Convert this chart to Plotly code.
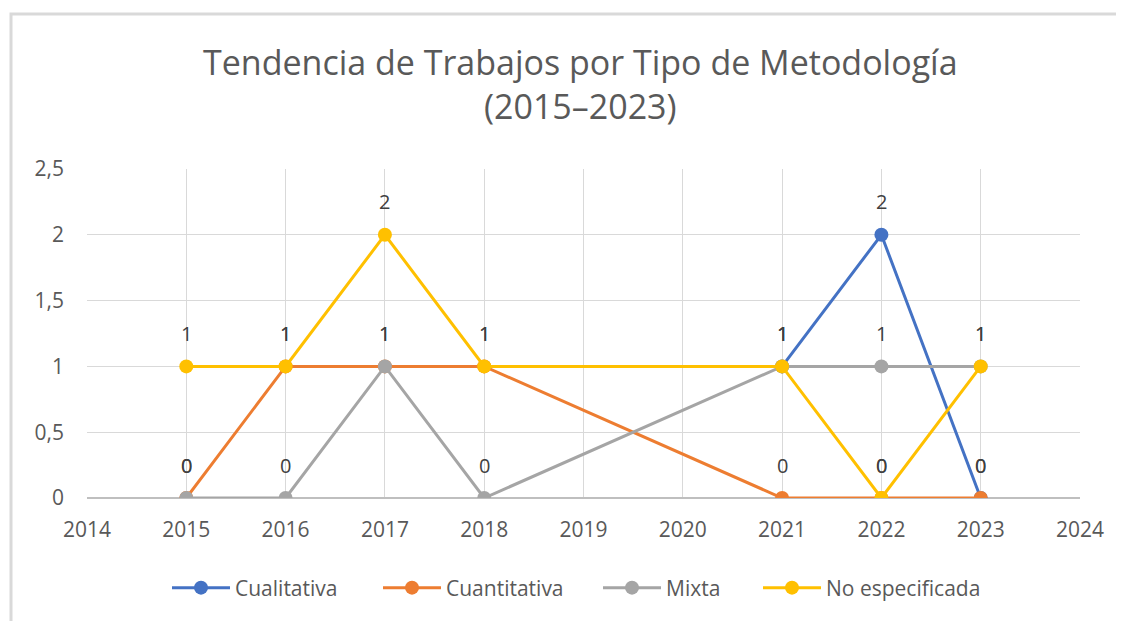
import plotly.graph_objects as go

years = [2015, 2016, 2017, 2018, 2021, 2022, 2023]
cualitativa = [None, None, None, None, 1, 2, 0]
cuantitativa = [0, 1, 1, 1, 0, 0, 0]
mixta = [0, 0, 1, 0, 1, 1, 1]
no_especificada = [1, 1, 2, 1, 1, 0, 1]

series = [
    ("Cualitativa", cualitativa, "#4472C4"),
    ("Cuantitativa", cuantitativa, "#ED7D31"),
    ("Mixta", mixta, "#A5A5A5"),
    ("No especificada", no_especificada, "#FFC000"),
]

FONT = "Open Sans"
TXT = "#595959"

OFF = 8  # page body margin
W, H = 1124 - OFF, 621 - OFF
L, T = 87 - OFF, 169 - OFF
pw, ph = 993, 329
R, B = W - L - pw, H - T - ph

def px(p):
    return (p - OFF - L) / pw

def py(p):
    return (T + ph - (p - OFF)) / ph

legend_left = [167, 378, 598, 758]
legend_ids = ["legend", "legend2", "legend3", "legend4"]

fig = go.Figure()
annotations = []
for (name, vals, color), lid in zip(series, legend_ids):
    fig.add_trace(go.Scatter(
        x=years, y=vals, name=name, mode="lines+markers",
        line=dict(color=color, width=3),
        marker=dict(color=color, size=14),
        connectgaps=False, legend=lid,
    ))
    for x, v in zip(years, vals):
        if v is None:
            continue
        annotations.append(dict(
            x=x, y=v, xref="x", yref="y", text=str(v), showarrow=False,
            yshift=33, font=dict(family=FONT, size=20, color="#404040"),
        ))

annotations.append(dict(
    text="Tendencia de Trabajos por Tipo de Metodología<br>(2015–2023)",
    xref="paper", yref="paper", x=px(580), y=py(84), xanchor="center", yanchor="middle",
    showarrow=False, font=dict(family=FONT, size=34, color=TXT),
))

legends = {}
for lid, lx in zip(legend_ids, legend_left):
    legends[lid] = dict(orientation="h", x=px(lx), y=py(588), xanchor="left", yanchor="middle",
                        font=dict(family=FONT, size=21, color=TXT), itemwidth=58,
                        bgcolor="rgba(0,0,0,0)")

fig.update_layout(
    width=W, height=H,
    margin=dict(l=L, r=R, t=T, b=B),
    paper_bgcolor="white", plot_bgcolor="white",
    separators=", ",
    showlegend=True,
    annotations=annotations,
    shapes=[dict(type="rect", xref="paper", yref="paper",
                 x0=px(11), y0=py(640), x1=px(1140), y1=py(14),
                 line=dict(color="#D9D9D9", width=3), layer="below")],
    xaxis=dict(range=[2014, 2024], dtick=1, tick0=2014, showgrid=True,
               gridcolor="#D9D9D9", gridwidth=1.3, zeroline=False, showline=False,
               ticks="", ticklabelstandoff=17,
               tickfont=dict(family=FONT, size=21, color=TXT)),
    yaxis=dict(range=[0, 2.5], dtick=0.5, showgrid=True, gridcolor="#D9D9D9",
               gridwidth=1.3, zeroline=True, zerolinecolor="#BFBFBF", zerolinewidth=2,
               showline=False, ticks="", ticklabelstandoff=22,
               tickfont=dict(family=FONT, size=21, color=TXT)),
    **legends,
)

fig.write_html("out.html")
